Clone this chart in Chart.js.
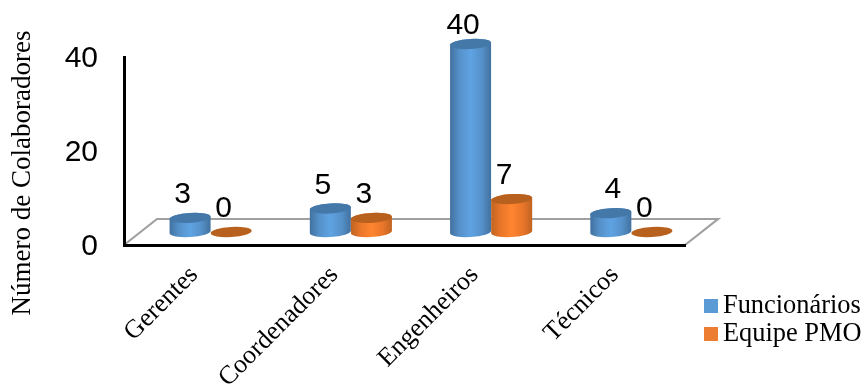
<!DOCTYPE html>
<html lang="pt">
<head>
<meta charset="utf-8">
<title>Número de Colaboradores</title>
<style>
  html, body { margin: 0; padding: 0; background: #fff; }
  canvas { display: block; }
</style>
<script src="https://cdn.jsdelivr.net/npm/chart.js@4/dist/chart.umd.js"></script>
</head>
<body>
<canvas id="chart" width="864" height="387"></canvas>
<script>
const categories = ['Gerentes', 'Coordenadores', 'Engenheiros', 'Técnicos'];
const funcionarios = [3, 5, 40, 4];
const equipePMO = [0, 3, 7, 0];
const axisTitle = 'Número de Colaboradores';

const SERIF = '"Liberation Serif", "Times New Roman", serif';
const SANS = '"Liberation Sans", Arial, sans-serif';

// Perspective of the floor: the bars stand half way along its depth.
const FLOOR_DX = 33, FLOOR_DY = -26;
const ELLIPSE_RY = 5, ELLIPSE_TILT = -0.06;

const shades = {
  Blue:   { flat: '#5b9bd5', edge: '#41719f', near: '#5590c8', mid: '#5fa3e3', cap: '#4478a8' },
  Orange: { flat: '#ed7d31', edge: '#bf6421', near: '#e8752a', mid: '#ff8530', cap: '#b8611f' }
};

// Floor plane behind the axes.
const floorPlugin = {
  id: 'floorPlane',
  beforeDraw(chart) {
    const { ctx, chartArea: a } = chart;
    ctx.save();
    ctx.beginPath();
    ctx.moveTo(a.left, a.bottom);
    ctx.lineTo(a.left + FLOOR_DX, a.bottom + FLOOR_DY);
    ctx.lineTo(a.right + FLOOR_DX, a.bottom + FLOOR_DY);
    ctx.lineTo(a.right, a.bottom);
    ctx.strokeStyle = '#a0a0a0';
    ctx.lineWidth = 2.2;
    ctx.stroke();
    ctx.restore();
    // Centres the digits of the value axis on their tick positions.
    chart.scales.y.getLabelItems().forEach(item => { item.options.translation[1] += 2; });
  }
};

// Draws every bar as a cylinder, using the geometry the bar controller computed.
const cylinderPlugin = {
  id: 'cylinders',
  beforeDatasetDraw() { return false; },
  afterDatasetsDraw(chart) {
    const { ctx } = chart;
    const offX = FLOOR_DX / 2, offY = FLOOR_DY / 2;
    chart.data.datasets.forEach((ds, i) => {
      const tone = shades[ds.tone];
      chart.getDatasetMeta(i).data.forEach((bar, j) => {
        const cx = bar.x + offX, rx = bar.width / 2;
        const topY = bar.y + offY, baseY = bar.base + offY;
        ctx.save();
        if (ds.data[j] > 0) {
          const g = ctx.createLinearGradient(cx - rx, 0, cx + rx, 0);
          g.addColorStop(0, tone.edge);
          g.addColorStop(0.22, tone.near);
          g.addColorStop(0.5, tone.mid);
          g.addColorStop(0.78, tone.near);
          g.addColorStop(1, tone.edge);
          ctx.beginPath();
          ctx.ellipse(cx, baseY, rx, ELLIPSE_RY, ELLIPSE_TILT, 0, Math.PI);
          ctx.ellipse(cx, topY, rx, ELLIPSE_RY, ELLIPSE_TILT, Math.PI, Math.PI * 2);
          ctx.closePath();
          ctx.fillStyle = g;
          ctx.fill();
        }
        ctx.beginPath();
        ctx.ellipse(cx, topY, rx, ELLIPSE_RY, ELLIPSE_TILT, 0, Math.PI * 2);
        ctx.fillStyle = tone.cap;
        ctx.fill();

        // Value above the bar, kept inside the top margin. The label of the
        // last blue bar sits further right, clear of its neighbour.
        const labelX = cx + (i === 0 && j === categories.length - 1 ? 2 : -7.5);
        ctx.fillStyle = '#000';
        ctx.font = '30px ' + SANS;
        ctx.textAlign = 'center';
        ctx.textBaseline = 'middle';
        ctx.fillText(String(ds.data[j]), labelX, Math.max(26, topY - 23));
        ctx.restore();
      });
    });
  }
};

// Vertical axis caption and the legend in the lower right corner.
const annotationPlugin = {
  id: 'annotations',
  afterDraw(chart) {
    const { ctx } = chart;
    ctx.save();
    ctx.fillStyle = '#000';
    ctx.font = '27px ' + SERIF;
    ctx.textAlign = 'center';
    ctx.textBaseline = 'middle';
    ctx.translate(23, 173);
    ctx.rotate(-Math.PI / 2);
    ctx.fillText(axisTitle, 0, 0);
    ctx.restore();

    ctx.save();
    ctx.font = '26.4px ' + SERIF;
    ctx.textAlign = 'left';
    ctx.textBaseline = 'middle';
    chart.data.datasets.forEach((ds, i) => {
      const y = 306 + i * 28;
      ctx.fillStyle = ds.backgroundColor;
      ctx.fillRect(704, y - 7, 14, 14);
      ctx.fillStyle = '#000';
      ctx.fillText(ds.label, 723, y);
    });
    ctx.restore();
  }
};

new Chart(document.getElementById('chart'), {
  type: 'bar',
  data: {
    labels: categories,
    datasets: [
      { label: 'Funcionários', data: funcionarios, tone: 'Blue', backgroundColor: shades.Blue.flat },
      { label: 'Equipe PMO', data: equipePMO, tone: 'Orange', backgroundColor: shades.Orange.flat }
    ]
  },
  plugins: [floorPlugin, cylinderPlugin, annotationPlugin],
  options: {
    responsive: false,
    animation: false,
    layout: { padding: { left: 0, top: 57, right: 179, bottom: 0 } },
    plugins: { legend: { display: false }, tooltip: { enabled: false } },
    datasets: { bar: { barPercentage: 1, categoryPercentage: 0.586 } },
    scales: {
      x: {
        afterFit(scale) { scale.height = 142; },
        grid: { display: false, drawTicks: false },
        border: { color: '#000', width: 3 },
        ticks: {
          color: '#000',
          font: { family: SERIF, size: 26 },
          minRotation: 45,
          maxRotation: 45,
          padding: 15
        }
      },
      y: {
        min: 0,
        max: 40,
        afterFit(scale) { scale.width = 124; },
        grid: { display: false, drawTicks: false },
        border: { color: '#000', width: 3 },
        ticks: {
          stepSize: 20,
          color: '#000',
          font: { family: SANS, size: 30 },
          padding: 26
        }
      }
    }
  }
});
</script>
</body>
</html>
